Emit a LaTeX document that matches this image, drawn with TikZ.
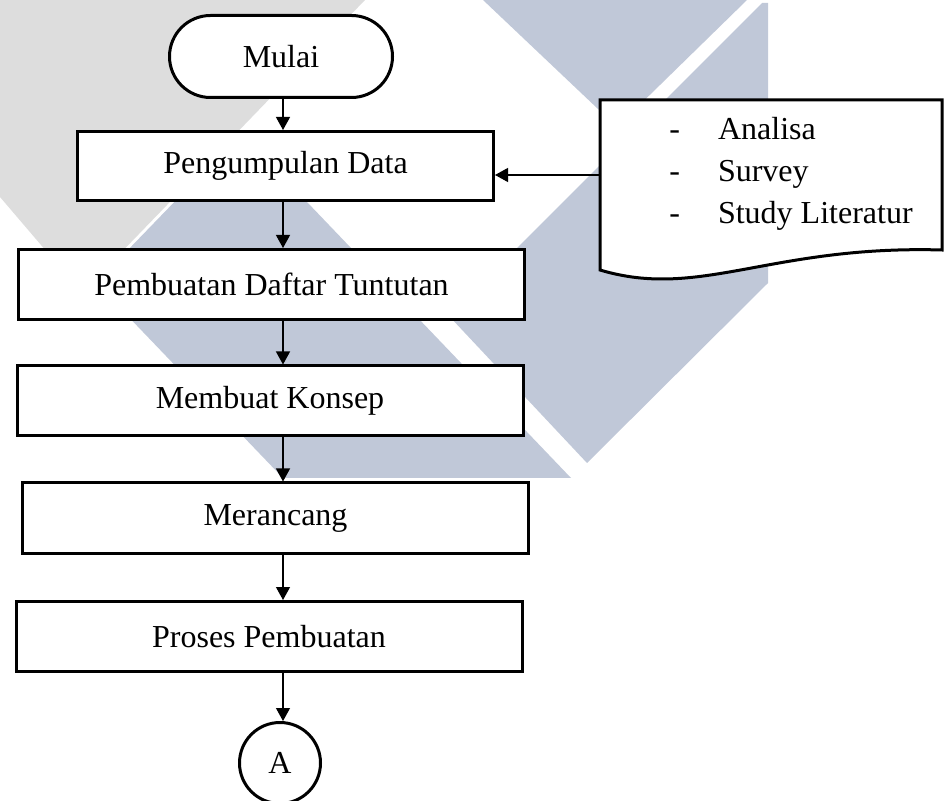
\documentclass[tikz,border=0pt]{standalone}
\usepackage{fontspec}
\setmainfont{Liberation Serif}
\usetikzlibrary{arrows.meta}
\definecolor{wmgrey}{RGB}{221,221,221}
\definecolor{wmblue}{RGB}{192,200,216}

\begin{document}
\begin{tikzpicture}[x=0.5pt,y=-0.5pt,>={Triangle[length=6.5pt,width=7pt]},
    font=\fontsize{16}{21}\selectfont,
    box/.style={draw,line width=1.5pt,fill=white,inner sep=0pt},
    stepbox/.style={box,minimum width=253pt,minimum height=35pt},
    conn/.style={->,line width=0.6pt}]
    \clip (0,0) rectangle (952,801);
    \fill[wmgrey] (0,0) -- (365,0) -- (82,293) -- (0,197) -- cycle;
    \fill[wmblue] (483,0) -- (747,0) -- (617,127) -- cycle;
    \fill[wmblue] (241,133) -- (96,283) -- (283,478) -- (571,478) -- cycle;
    \fill[wmblue] (762,3) -- (768,3) -- (768,283) -- (587,463) -- (449,316) -- cycle;

    \draw[line width=1.5pt,fill=white] (600,100) -- (942,100) -- (942,250)
        .. controls (770,245) and (700,300) .. (600,270) -- cycle;
    \node[anchor=base west,inner sep=0pt] (src) at (669,140)
        {\begin{tabular}[t]{@{}l@{\hspace{19pt}}l@{}}-&Analisa\\-&Survey\\-&Study Literatur\end{tabular}};
    \coordinate (srcin) at (600,175);

    \node[box,rounded corners=20.5pt,minimum width=111.5pt,minimum height=41pt] (mulai) at (281,56.5) {Mulai};
    \node[box,minimum width=208pt,minimum height=34.5pt] (data) at (285.5,166) {Pengumpulan Data};
    \node[stepbox] (tuntutan) at (271.5,284.5) {Pembuatan Daftar Tuntutan};
    \node[stepbox] (konsep) at (270,401) {Membuat Konsep};
    \node[stepbox] (rancang) at (275.5,518) {Merancang};
    \node[stepbox] (proses) at (269,636.5) {Proses Pembuatan};
    \node[box,circle,minimum size=40.5pt] (A) at (280,763) {A};
    \coordinate (spine) at (283,0);

    \draw[conn] (mulai.south -| spine) -- (data.north -| spine);
    \draw[conn] (data.south -| spine) -- (tuntutan.north -| spine);
    \draw[conn] (tuntutan.south -| spine) -- (konsep.north -| spine);
    \draw[conn] (konsep.south -| spine) -- (rancang.north -| spine);
    \draw[conn] (rancang.south -| spine) -- (proses.north -| spine);
    \draw[conn] (proses.south -| spine) -- (A.north -| spine);
    \draw[conn] (srcin) -- (srcin -| data.east);
\end{tikzpicture}
\end{document}
